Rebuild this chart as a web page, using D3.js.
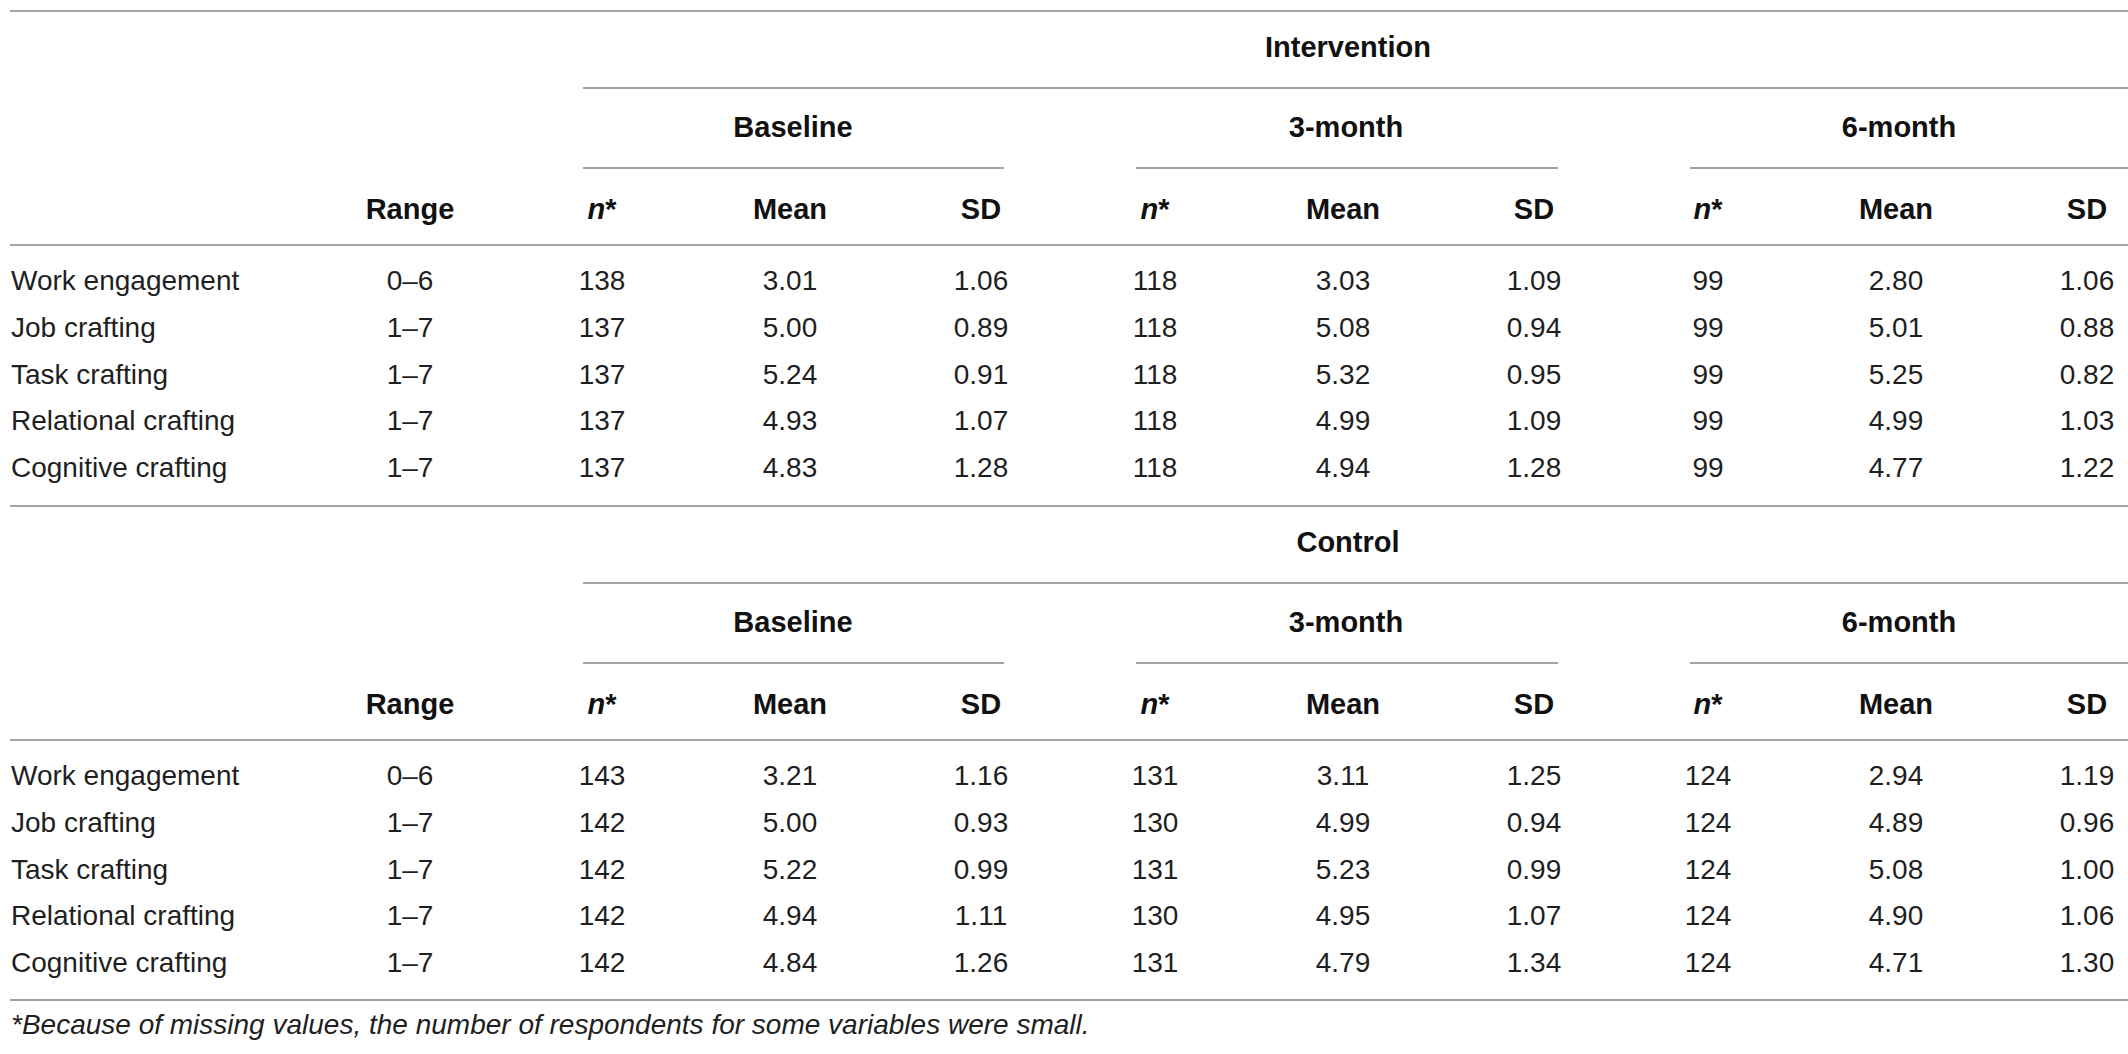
<!DOCTYPE html>
<html>
<head>
<meta charset="utf-8">
<script src="https://cdn.jsdelivr.net/npm/d3@7"></script>
<style>
  html, body { margin: 0; padding: 0; background: #fff; }
  svg { display: block; }
  text { font-family: "Liberation Sans", Arial, Helvetica, sans-serif; fill: #1f1f1f; }
  .reg { font-size: 28px; }
  .bold { font-size: 29px; font-weight: bold; fill: #111; }
  .foot { font-size: 28px; font-style: italic; }
</style>
</head>
<body>
<svg id="chart" width="2128" height="1054"></svg>
<script>
// ---------------- data ----------------
const variables = ["Work engagement", "Job crafting", "Task crafting", "Relational crafting", "Cognitive crafting"];
const ranges = ["0–6", "1–7", "1–7", "1–7", "1–7"];
const groups = ["Intervention", "Control"];
const timepoints = ["Baseline", "3-month", "6-month"];
const statHeaders = ["n*", "Mean", "SD"];

// Intervention
const intBaselineN = [138, 137, 137, 137, 137];
const intBaselineMean = [3.01, 5.00, 5.24, 4.93, 4.83];
const intBaselineSD = [1.06, 0.89, 0.91, 1.07, 1.28];
const int3mN = [118, 118, 118, 118, 118];
const int3mMean = [3.03, 5.08, 5.32, 4.99, 4.94];
const int3mSD = [1.09, 0.94, 0.95, 1.09, 1.28];
const int6mN = [99, 99, 99, 99, 99];
const int6mMean = [2.80, 5.01, 5.25, 4.99, 4.77];
const int6mSD = [1.06, 0.88, 0.82, 1.03, 1.22];

// Control
const ctlBaselineN = [143, 142, 142, 142, 142];
const ctlBaselineMean = [3.21, 5.00, 5.22, 4.94, 4.84];
const ctlBaselineSD = [1.16, 0.93, 0.99, 1.11, 1.26];
const ctl3mN = [131, 130, 131, 130, 131];
const ctl3mMean = [3.11, 4.99, 5.23, 4.95, 4.79];
const ctl3mSD = [1.25, 0.94, 0.99, 1.07, 1.34];
const ctl6mN = [124, 124, 124, 124, 124];
const ctl6mMean = [2.94, 4.89, 5.08, 4.90, 4.71];
const ctl6mSD = [1.19, 0.96, 1.00, 1.06, 1.30];

const footnote = "*Because of missing values, the number of respondents for some variables were small.";

// table assembled from the arrays above
const tableData = [
  [[intBaselineN, intBaselineMean, intBaselineSD], [int3mN, int3mMean, int3mSD], [int6mN, int6mMean, int6mSD]],
  [[ctlBaselineN, ctlBaselineMean, ctlBaselineSD], [ctl3mN, ctl3mMean, ctl3mSD], [ctl6mN, ctl6mMean, ctl6mSD]]
];

// ---------------- layout ----------------
const W = 2128;
const svg = d3.select("#chart");
const lineColor = "#a3a3a3";
const lineW = 2;

const labelX = 11;
const rangeX = 410;
// x of each stat column within each timepoint
const tpScale = d3.scaleLinear().domain([0, 1]).range([0, 553]);
const statScale = d3.scaleOrdinal().domain([0, 1, 2]).range([602, 790, 981]);
const colX = (t, s) => statScale(s) + tpScale(t);
const spanStart = [583, 1136, 1690];
const spanEnd = [1004, 1558, W];

// vertical (baselines): block offset and row positions
const blockScale = d3.scaleLinear().domain([0, 1]).range([0, 495]);
const rowScale = d3.scaleLinear().domain([0, 4]).range([290, 477]);
const yTop = 11, yGroup = 57, yGroupLine = 88, yTp = 137, yTpLine = 168, yHead = 219, yHeadLine = 245;

function hline(g, x1, x2, y) {
  g.append("line").attr("x1", x1).attr("x2", x2).attr("y1", y).attr("y2", y)
    .attr("stroke", lineColor).attr("stroke-width", lineW);
}
function txt(g, x, y, s, cls, anchor) {
  return g.append("text").attr("x", x).attr("y", y)
    .attr("class", cls).attr("text-anchor", anchor || "middle").text(s);
}

groups.forEach((grp, gi) => {
  const off = blockScale(gi);
  const g = svg.append("g").attr("transform", `translate(0,${off})`);
  hline(g, 10, W, yTop);
  txt(g, colX(1, 1) + 5, yGroup, grp, "bold");
  hline(g, spanStart[0], W, yGroupLine);
  timepoints.forEach((tp, ti) => {
    txt(g, colX(ti, 1) + 3, yTp, tp, "bold");
    hline(g, spanStart[ti], spanEnd[ti], yTpLine);
    statHeaders.forEach((h, si) => {
      const t = txt(g, colX(ti, si), yHead, "", "bold");
      if (si === 0) {
        t.append("tspan").attr("font-style", "italic").text("n");
        t.append("tspan").text("*");
      } else {
        t.text(h);
      }
    });
  });
  txt(g, rangeX, yHead, "Range", "bold");
  hline(g, 10, W, yHeadLine);

  // body rows
  const rows = g.selectAll("g.row").data(variables).join("g").attr("class", "row");
  rows.each(function (v, ri) {
    const r = d3.select(this);
    const y = rowScale(ri);
    txt(r, labelX, y, v, "reg", "start");
    txt(r, rangeX, y, ranges[ri], "reg");
    tableData[gi].forEach((tpArr, ti) => {
      txt(r, colX(ti, 0), y, String(tpArr[0][ri]), "reg");
      txt(r, colX(ti, 1), y, tpArr[1][ri].toFixed(2), "reg");
      txt(r, colX(ti, 2), y, tpArr[2][ri].toFixed(2), "reg");
    });
  });
});
// bottom rule and footnote
hline(svg, 10, W, blockScale(1) + 505);
txt(svg, labelX, 1034, footnote, "foot", "start");
</script>
</body>
</html>
